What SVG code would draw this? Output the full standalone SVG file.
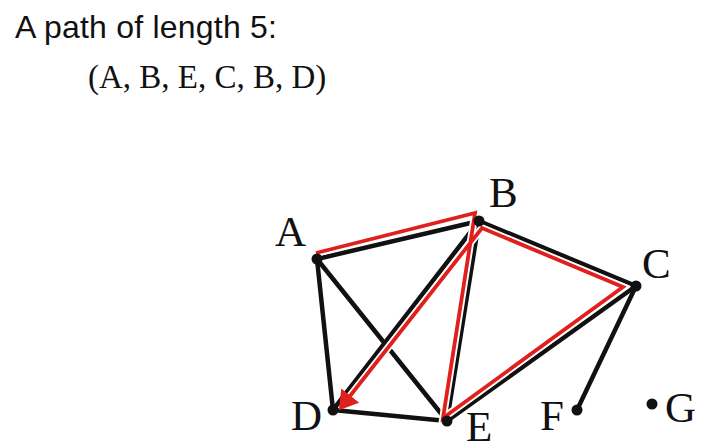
<svg xmlns="http://www.w3.org/2000/svg" width="707" height="444" viewBox="0 0 707 444">
<style>
.title{font-family:"Liberation Sans",Arial,sans-serif;font-size:32px;fill:#111}
.seq{font-family:"Liberation Serif","Times New Roman",serif;font-size:33px;fill:#111}
.lbl{font-family:"Liberation Serif","Times New Roman",serif;font-size:43px;fill:#111}
.edge{stroke:#111;stroke-width:4.5;fill:none;stroke-linecap:round}
.halo{stroke:#fff;stroke-width:7.5;fill:none;stroke-linejoin:miter}
.red{stroke:#e0201c;stroke-width:3.8;fill:none;stroke-linejoin:miter}
.dot{fill:#111}
</style>
<defs>
<marker id="arr" markerUnits="userSpaceOnUse" markerWidth="19" markerHeight="24" viewBox="0 0 19 24" refX="0.5" refY="12" orient="auto">
<path d="M0,0.5 L18.5,12 L0,23.5 z" fill="#e0201c"/>
</marker>
</defs>
<rect width="707" height="444" fill="#fff"/>
<text class="title" x="15" y="38" textLength="262" lengthAdjust="spacing">A path of length 5:</text>
<text class="seq" x="88" y="88">(A, B, E, C, B, D)</text>
<g id="connectors">
<line class="edge" x1="317" y1="259" x2="479" y2="221"/>
<line class="edge" x1="317" y1="259" x2="333" y2="410"/>
<line class="edge" x1="317" y1="259" x2="447" y2="421"/>
<line class="edge" x1="479" y1="221" x2="333" y2="410"/>
<line class="edge" x1="479" y1="221" x2="447" y2="421"/>
<line class="edge" x1="479" y1="221" x2="636" y2="286"/>
<line class="edge" x1="636" y1="286" x2="447" y2="421"/>
<line class="edge" x1="636" y1="286" x2="577" y2="410"/>
<line class="edge" x1="333" y1="410" x2="447" y2="421"/>
<g id="path-highlight">
<polyline class="halo" points="316,253 475,213 443,418 623,287 482,228 350,396"/>
<polyline class="red" points="316,253 475,213 443,418 623,287 482,228 350,396" marker-end="url(#arr)"/>
</g>
</g>
<g id="node-A"><circle class="dot" cx="317" cy="259" r="5.5"/><text class="lbl" x="275" y="246">A</text></g>
<g id="node-B"><circle class="dot" cx="479" cy="221" r="5.5"/><text class="lbl" x="489" y="207">B</text></g>
<g id="node-C"><circle class="dot" cx="636" cy="286" r="5.5"/><text class="lbl" x="642" y="278">C</text></g>
<g id="node-D"><circle class="dot" cx="333" cy="410" r="5.5"/><text class="lbl" x="291" y="430">D</text></g>
<g id="node-E"><circle class="dot" cx="447" cy="421" r="5.5"/><text class="lbl" x="466" y="441">E</text></g>
<g id="node-F"><circle class="dot" cx="577" cy="410" r="5.5"/><text class="lbl" x="540" y="430">F</text></g>
<g id="node-G"><circle class="dot" cx="652" cy="404" r="5.5"/><text class="lbl" x="665" y="422">G</text></g>
</svg>
